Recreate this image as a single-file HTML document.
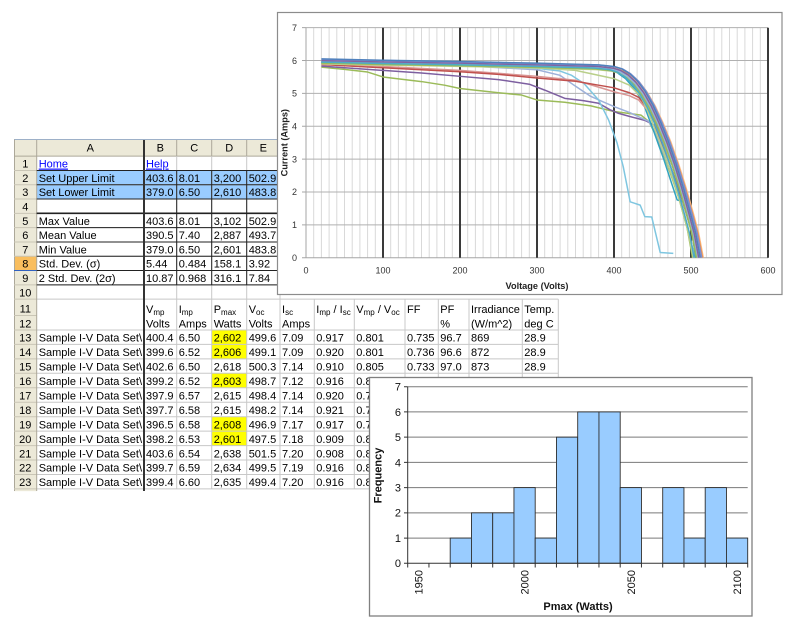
<!DOCTYPE html>
<html><head><meta charset="utf-8"><style>
html,body{margin:0;padding:0;background:#fff;}
svg{display:block;}
text{font-family:"Liberation Sans",Arial,sans-serif;}
.c{font-size:11px;fill:#000;}
.rn{font-size:11px;fill:#000;text-anchor:middle;}
.s{font-size:8px;}
.t{font-size:9px;fill:#333;}
.h{font-size:11px;fill:#111;}
</style></head><body>
<svg width="800" height="631" viewBox="0 0 800 631" xmlns="http://www.w3.org/2000/svg">
<rect width="800" height="631" fill="#fff"/>

<!-- ===== SPREADSHEET ===== -->
<!-- header row -->
<rect x="14" y="140" width="266" height="16.15" fill="#ECE9D8"/>
<rect x="14" y="156.15" width="22.7" height="335" fill="#ECE9D8"/>
<rect x="14" y="256.25" width="22.7" height="14.3" fill="#F9BE5E"/>
<line x1="14" y1="139.5" x2="280" y2="139.5" stroke="#9DB0C8" stroke-width="1"/>
<line x1="14.5" y1="139.5" x2="14.5" y2="491" stroke="#ACA899" stroke-width="1"/>
<line x1="14" y1="156.15" x2="280" y2="156.15" stroke="#ACA899" stroke-width="1"/>
<!-- blue fills rows 2-3 -->
<rect x="36.7" y="170.45" width="243.3" height="28.6" fill="#99CCFF"/>
<!-- yellow highlights -->
<g fill="#FFFF00">
<rect x="211.7" y="329.98" width="35" height="14.42"/>
<rect x="211.7" y="344.4" width="35" height="14.5"/>
<rect x="211.7" y="373.3" width="35" height="14.5"/>
<rect x="211.7" y="416.7" width="35" height="14.4"/>
<rect x="211.7" y="431.1" width="35" height="14.5"/>
</g>

<!-- light gridlines -->
<g stroke="#C8C8C8" stroke-width="1" fill="none">
<path d="M36.7,170.45H280M36.7,184.75H280M36.7,199.05H280M36.7,213.35H280M36.7,227.65H280M36.7,241.95H280M36.7,256.25H280M36.7,270.55H280M36.7,284.85H280"/>
<path d="M36.7,299.15H558.3M36.7,329.98H558.3M36.7,344.4H558.3M36.7,358.9H558.3M36.7,373.3H558.3M36.7,387.8H558.3M36.7,402.2H558.3M36.7,416.7H558.3M36.7,431.1H558.3M36.7,445.6H558.3M36.7,460H558.3M36.7,474.5H558.3M36.7,488.9H558.3"/>
<path d="M176.7,156.15V488.9M211.7,156.15V488.9M246.7,156.15V488.9M280,156.15V488.9M314.3,299.15V488.9M354.3,299.15V488.9M405,299.15V488.9M438.3,299.15V488.9M469,299.15V488.9M522.3,299.15V488.9M558.3,299.15V488.9"/>
</g>
<!-- row header separators -->
<g stroke="#C9C5B5" stroke-width="1">
<path d="M14,170.45H36.7M14,184.75H36.7M14,199.05H36.7M14,213.35H36.7M14,227.65H36.7M14,241.95H36.7M14,256.25H36.7M14,270.55H36.7M14,284.85H36.7M14,299.15H36.7M14,315.5H36.7M14,329.98H36.7M14,344.4H36.7M14,358.9H36.7M14,373.3H36.7M14,387.8H36.7M14,402.2H36.7M14,416.7H36.7M14,431.1H36.7M14,445.6H36.7M14,460H36.7M14,474.5H36.7M14,488.9H36.7"/>
</g>
<g stroke="#ACA899" stroke-width="1">
<path d="M36.7,140V491M144,140V156M176.7,140V156M211.7,140V156M246.7,140V156"/>
</g>
<line x1="14" y1="270.55" x2="36.7" y2="270.55" stroke="#3060C0" stroke-width="1"/>
<!-- dark cell borders rows 2-9 -->
<g stroke="#222" stroke-width="1" fill="none">
<path d="M36.7,170.45H280M36.7,184.75H280M36.7,199.05H280M36.7,213.35H280M36.7,227.65H280M36.7,241.95H280M36.7,256.25H280M36.7,270.55H280M36.7,284.85H280"/>
<path d="M176.7,170.45V284.85M211.7,170.45V284.85M246.7,170.45V284.85"/>
</g>
<line x1="36.7" y1="213.35" x2="280" y2="213.35" stroke="#222" stroke-width="1.6"/>
<line x1="144" y1="140" x2="144" y2="491" stroke="#333" stroke-width="2"/>

<!-- column letters -->
<g class="rn">
<text x="90.3" y="151.5">A</text><text x="160.3" y="151.5">B</text><text x="194.2" y="151.5">C</text><text x="229.2" y="151.5">D</text><text x="263.3" y="151.5">E</text>
</g>
<!-- row numbers -->
<g class="rn">
<text x="25.3" y="167.6">1</text><text x="25.3" y="181.9">2</text><text x="25.3" y="196.2">3</text><text x="25.3" y="210.5">4</text><text x="25.3" y="224.8">5</text><text x="25.3" y="239.1">6</text><text x="25.3" y="253.4">7</text><text x="25.3" y="267.7">8</text><text x="25.3" y="282">9</text><text x="25.3" y="296.3">10</text><text x="25.3" y="312.6">11</text><text x="25.3" y="327.3">12</text><text x="25.3" y="341.7">13</text><text x="25.3" y="356.1">14</text><text x="25.3" y="370.6">15</text><text x="25.3" y="385">16</text><text x="25.3" y="399.5">17</text><text x="25.3" y="413.9">18</text><text x="25.3" y="428.4">19</text><text x="25.3" y="442.8">20</text><text x="25.3" y="457.3">21</text><text x="25.3" y="471.7">22</text><text x="25.3" y="486.2">23</text>
</g>

<!-- rows 1-9 -->
<g class="c">
<text x="38.7" y="167.6" fill="#0000FF" text-decoration="underline">Home</text>
<text x="146" y="167.6" fill="#0000FF" text-decoration="underline">Help</text>
<text x="38.7" y="181.9">Set Upper Limit</text><text x="146" y="181.9">403.6</text><text x="178.7" y="181.9">8.01</text><text x="213.7" y="181.9">3,200</text><text x="248.7" y="181.9">502.9</text>
<text x="38.7" y="196.2">Set Lower Limit</text><text x="146" y="196.2">379.0</text><text x="178.7" y="196.2">6.50</text><text x="213.7" y="196.2">2,610</text><text x="248.7" y="196.2">483.8</text>
<text x="38.7" y="224.8">Max Value</text><text x="146" y="224.8">403.6</text><text x="178.7" y="224.8">8.01</text><text x="213.7" y="224.8">3,102</text><text x="248.7" y="224.8">502.9</text>
<text x="38.7" y="239.1">Mean Value</text><text x="146" y="239.1">390.5</text><text x="178.7" y="239.1">7.40</text><text x="213.7" y="239.1">2,887</text><text x="248.7" y="239.1">493.7</text>
<text x="38.7" y="253.4">Min Value</text><text x="146" y="253.4">379.0</text><text x="178.7" y="253.4">6.50</text><text x="213.7" y="253.4">2,601</text><text x="248.7" y="253.4">483.8</text>
<text x="38.7" y="267.7">Std. Dev. (σ)</text><text x="146" y="267.7">5.44</text><text x="178.7" y="267.7">0.484</text><text x="213.7" y="267.7">158.1</text><text x="248.7" y="267.7">3.92</text>
<text x="38.7" y="282">2 Std. Dev. (2σ)</text><text x="146" y="282">10.87</text><text x="178.7" y="282">0.968</text><text x="213.7" y="282">316.1</text><text x="248.7" y="282">7.84</text>
</g>

<!-- rows 11-12 headers -->
<g class="c">
<text x="146" y="313">V<tspan class="s" dy="2">mp</tspan></text>
<text x="178.7" y="313">I<tspan class="s" dy="2">mp</tspan></text>
<text x="213.7" y="313">P<tspan class="s" dy="2">max</tspan></text>
<text x="248.7" y="313">V<tspan class="s" dy="2">oc</tspan></text>
<text x="282" y="313">I<tspan class="s" dy="2">sc</tspan></text>
<text x="316.3" y="313">I<tspan class="s" dy="2">mp</tspan><tspan dy="-2"> / I</tspan><tspan class="s" dy="2">sc</tspan></text>
<text x="356.3" y="313">V<tspan class="s" dy="2">mp</tspan><tspan dy="-2"> / V</tspan><tspan class="s" dy="2">oc</tspan></text>
<text x="407" y="313">FF</text><text x="440.3" y="313">PF</text><text x="471" y="313">Irradiance</text><text x="524.3" y="313">Temp.</text>
<text x="146" y="327.3">Volts</text><text x="178.7" y="327.3">Amps</text><text x="213.7" y="327.3">Watts</text><text x="248.7" y="327.3">Volts</text><text x="282" y="327.3">Amps</text><text x="440.3" y="327.3">%</text><text x="471" y="327.3">(W/m^2)</text><text x="524.3" y="327.3">deg C</text>
</g>

<!-- data rows -->
<g class="c">
<text x="38.7" y="341.7">Sample I-V Data Set\</text><text x="146" y="341.7">400.4</text><text x="178.7" y="341.7">6.50</text><text x="213.7" y="341.7">2,602</text><text x="248.7" y="341.7">499.6</text><text x="282" y="341.7">7.09</text><text x="316.3" y="341.7">0.917</text><text x="356.3" y="341.7">0.801</text><text x="407" y="341.7">0.735</text><text x="440.3" y="341.7">96.7</text><text x="471" y="341.7">869</text><text x="524.3" y="341.7">28.9</text>
<text x="38.7" y="356.1">Sample I-V Data Set\</text><text x="146" y="356.1">399.6</text><text x="178.7" y="356.1">6.52</text><text x="213.7" y="356.1">2,606</text><text x="248.7" y="356.1">499.1</text><text x="282" y="356.1">7.09</text><text x="316.3" y="356.1">0.920</text><text x="356.3" y="356.1">0.801</text><text x="407" y="356.1">0.736</text><text x="440.3" y="356.1">96.6</text><text x="471" y="356.1">872</text><text x="524.3" y="356.1">28.9</text>
<text x="38.7" y="370.6">Sample I-V Data Set\</text><text x="146" y="370.6">402.6</text><text x="178.7" y="370.6">6.50</text><text x="213.7" y="370.6">2,618</text><text x="248.7" y="370.6">500.3</text><text x="282" y="370.6">7.14</text><text x="316.3" y="370.6">0.910</text><text x="356.3" y="370.6">0.805</text><text x="407" y="370.6">0.733</text><text x="440.3" y="370.6">97.0</text><text x="471" y="370.6">873</text><text x="524.3" y="370.6">28.9</text>
<text x="38.7" y="385">Sample I-V Data Set\</text><text x="146" y="385">399.2</text><text x="178.7" y="385">6.52</text><text x="213.7" y="385">2,603</text><text x="248.7" y="385">498.7</text><text x="282" y="385">7.12</text><text x="316.3" y="385">0.916</text><text x="356.3" y="385">0.800</text>
<text x="38.7" y="399.5">Sample I-V Data Set\</text><text x="146" y="399.5">397.9</text><text x="178.7" y="399.5">6.57</text><text x="213.7" y="399.5">2,615</text><text x="248.7" y="399.5">498.4</text><text x="282" y="399.5">7.14</text><text x="316.3" y="399.5">0.920</text><text x="356.3" y="399.5">0.798</text>
<text x="38.7" y="413.9">Sample I-V Data Set\</text><text x="146" y="413.9">397.7</text><text x="178.7" y="413.9">6.58</text><text x="213.7" y="413.9">2,615</text><text x="248.7" y="413.9">498.2</text><text x="282" y="413.9">7.14</text><text x="316.3" y="413.9">0.921</text><text x="356.3" y="413.9">0.798</text>
<text x="38.7" y="428.4">Sample I-V Data Set\</text><text x="146" y="428.4">396.5</text><text x="178.7" y="428.4">6.58</text><text x="213.7" y="428.4">2,608</text><text x="248.7" y="428.4">496.9</text><text x="282" y="428.4">7.17</text><text x="316.3" y="428.4">0.917</text><text x="356.3" y="428.4">0.798</text>
<text x="38.7" y="442.8">Sample I-V Data Set\</text><text x="146" y="442.8">398.2</text><text x="178.7" y="442.8">6.53</text><text x="213.7" y="442.8">2,601</text><text x="248.7" y="442.8">497.5</text><text x="282" y="442.8">7.18</text><text x="316.3" y="442.8">0.909</text><text x="356.3" y="442.8">0.800</text>
<text x="38.7" y="457.3">Sample I-V Data Set\</text><text x="146" y="457.3">403.6</text><text x="178.7" y="457.3">6.54</text><text x="213.7" y="457.3">2,638</text><text x="248.7" y="457.3">501.5</text><text x="282" y="457.3">7.20</text><text x="316.3" y="457.3">0.908</text><text x="356.3" y="457.3">0.805</text>
<text x="38.7" y="471.7">Sample I-V Data Set\</text><text x="146" y="471.7">399.7</text><text x="178.7" y="471.7">6.59</text><text x="213.7" y="471.7">2,634</text><text x="248.7" y="471.7">499.5</text><text x="282" y="471.7">7.19</text><text x="316.3" y="471.7">0.916</text><text x="356.3" y="471.7">0.800</text>
<text x="38.7" y="486.2">Sample I-V Data Set\</text><text x="146" y="486.2">399.4</text><text x="178.7" y="486.2">6.60</text><text x="213.7" y="486.2">2,635</text><text x="248.7" y="486.2">499.4</text><text x="282" y="486.2">7.20</text><text x="316.3" y="486.2">0.916</text><text x="356.3" y="486.2">0.800</text>
</g>

<!-- ===== I-V CHART ===== -->
<rect x="277.5" y="12.5" width="504.5" height="282" fill="#fff" stroke="#8C8C8C" stroke-width="1.2"/>
<!-- minor verticals -->
<path stroke="#D9D9D9" stroke-width="1" fill="none" d="M313.7,27.7V257.7M321.4,27.7V257.7M329.1,27.7V257.7M336.8,27.7V257.7M344.5,27.7V257.7M352.2,27.7V257.7M359.9,27.7V257.7M367.6,27.7V257.7M375.3,27.7V257.7M390.7,27.7V257.7M398.4,27.7V257.7M406.1,27.7V257.7M413.8,27.7V257.7M421.5,27.7V257.7M429.2,27.7V257.7M436.9,27.7V257.7M444.6,27.7V257.7M452.3,27.7V257.7M467.7,27.7V257.7M475.4,27.7V257.7M483.1,27.7V257.7M490.8,27.7V257.7M498.5,27.7V257.7M506.2,27.7V257.7M513.9,27.7V257.7M521.6,27.7V257.7M529.3,27.7V257.7M544.7,27.7V257.7M552.4,27.7V257.7M560.1,27.7V257.7M567.8,27.7V257.7M575.5,27.7V257.7M583.2,27.7V257.7M590.9,27.7V257.7M598.6,27.7V257.7M606.3,27.7V257.7M621.7,27.7V257.7M629.4,27.7V257.7M637.1,27.7V257.7M644.8,27.7V257.7M652.5,27.7V257.7M660.2,27.7V257.7M667.9,27.7V257.7M675.6,27.7V257.7M683.3,27.7V257.7M698.7,27.7V257.7M706.4,27.7V257.7M714.1,27.7V257.7M721.8,27.7V257.7M729.5,27.7V257.7M737.2,27.7V257.7M744.9,27.7V257.7M752.6,27.7V257.7M760.3,27.7V257.7"/>
<!-- horizontal gridlines -->
<path stroke="#B0B0B0" stroke-width="1" fill="none" d="M306,224.84H768M306,191.98H768M306,159.12H768M306,126.26H768M306,93.4H768M306,60.54H768M306,27.68H768"/>
<!-- axes -->
<path stroke="#A6A6A6" stroke-width="1" fill="none" d="M306,27.7V257.7M302,257.7H768M302,224.84H306M302,191.98H306M302,159.12H306M302,126.26H306M302,93.4H306M302,60.54H306M302,27.68H306"/>
<!-- major verticals -->
<path stroke="#3A3A3A" stroke-width="2" fill="none" d="M383,27.7V257.7M460,27.7V257.7M537,27.7V257.7M614,27.7V257.7M691,27.7V257.7M768,27.7V257.7"/>

<!-- curves -->
<g transform="translate(306,257.7) scale(0.77,-32.86)" fill="none" stroke-width="1.5" stroke-linejoin="round">
<path vector-effect="non-scaling-stroke" stroke="#9BBB59" d="M20,5.8 L50,5.73 L80,5.65 L100,5.5 L150,5.36 L180,5.25 L200,5.15 L250,5.02 L280,4.95 L300,4.8 L336,4.73 L370,4.62 L400,4.45 L435,4.34 L445,4.15 L455,3.7 L465,3.1 L475,2.45 L485,1.75 L495,0.9 L502,0"/>
<path vector-effect="non-scaling-stroke" stroke="#7D5FA0" d="M20,5.83 L100,5.7 L150,5.62 L200,5.52 L250,5.42 L290,5.28 L310,5.1 L336,4.85 L360,4.78 L380,4.7 L395,4.5 L405,4.4 L420,4.3 L440,4.18 L452,4.04 L460,3.6 L470,3.0 L480,2.35 L490,1.65 L500,0.85 L507,0"/>
<path vector-effect="non-scaling-stroke" stroke="#9DB1DA" d="M20,5.95 L200,5.85 L300,5.72 L330,5.55 L348,5.25 L369,4.92 L385,4.75 L400,4.6 L420,4.42 L445,4.15 L455,3.75 L465,3.15 L475,2.5 L485,1.8 L495,1.0 L505,0"/>
<path vector-effect="non-scaling-stroke" stroke="#7FC6E0" d="M20,5.98 L100,5.93 L200,5.86 L300,5.76 L330,5.68 L345,5.55 L361,5.3 L380,4.8 L393,4.19 L404,3.49 L412,2.77 L421,1.7 L434,1.6 L440,1.25 L449,1.24 L460,0.16 L477,0.13"/>
<path vector-effect="non-scaling-stroke" stroke="#31A3BF" d="M20,5.93 L300,5.84 L400,5.7 L415,5.45 L428,5.1 L438,4.7 L450,3.95 L465,2.97 L475,2.25 L482,1.76 L490,1.7 L497,1.5 L503,0.5 L506,0"/>
<path vector-effect="non-scaling-stroke" stroke="#D99694" d="M20,5.92 L100,5.82 L200,5.7 L300,5.52 L350,5.4 L400,5.05 L420,4.93 L432,4.8 L445,4.45 L455,4.0 L465,3.45 L475,2.85 L485,2.15 L495,1.35 L505,0.4 L508,0"/>
<path vector-effect="non-scaling-stroke" stroke="#C0504D" d="M20,5.88 L100,5.78 L200,5.66 L250,5.58 L300,5.47 L350,5.37 L380,5.25 L400,5.17 L420,5.02 L432,4.88 L442,4.6 L452,4.2 L462,3.7 L472,3.15 L482,2.5 L492,1.75 L502,0.9 L509,0"/>
<path vector-effect="non-scaling-stroke" stroke="#B9CF8A" d="M20,5.95 L200,5.85 L300,5.78 L350,5.7 L400,5.45 L420,5.25 L435,4.9 L445,4.4 L455,3.8 L465,3.2 L475,2.5 L485,1.75 L495,0.9 L503,0"/>
<g>
<path vector-effect="non-scaling-stroke" stroke="#FAC090" transform="scale(1.0078,0.995)" d="M20,6.02 L100,5.98 L200,5.94 L300,5.89 L380,5.84 L400,5.79 L410,5.72 L420,5.58 L430,5.36 L440,5.05 L450,4.64 L460,4.13 L470,3.55 L480,2.88 L490,2.12 L500,1.28 L506,0.75 L512,0"/>
<path vector-effect="non-scaling-stroke" stroke="#F79646" transform="scale(1.0059,0.9917)" d="M20,6.02 L100,5.98 L200,5.94 L300,5.89 L380,5.84 L400,5.79 L410,5.72 L420,5.58 L430,5.36 L440,5.05 L450,4.64 L460,4.13 L470,3.55 L480,2.88 L490,2.12 L500,1.28 L506,0.75 L512,0"/>
<path vector-effect="non-scaling-stroke" stroke="#F2A7A5" transform="scale(1.002,0.99)" d="M20,6.02 L100,5.98 L200,5.94 L300,5.89 L380,5.84 L400,5.79 L410,5.72 L420,5.58 L430,5.36 L440,5.05 L450,4.64 L460,4.13 L470,3.55 L480,2.88 L490,2.12 L500,1.28 L506,0.75 L512,0"/>
<path vector-effect="non-scaling-stroke" stroke="#B3A2C7" transform="scale(0.998,0.9867)" d="M20,6.02 L100,5.98 L200,5.94 L300,5.89 L380,5.84 L400,5.79 L410,5.72 L420,5.58 L430,5.36 L440,5.05 L450,4.64 L460,4.13 L470,3.55 L480,2.88 L490,2.12 L500,1.28 L506,0.75 L512,0"/>
<path vector-effect="non-scaling-stroke" stroke="#93CDDD" transform="scale(0.9961,0.995)" d="M20,6.02 L100,5.98 L200,5.94 L300,5.89 L380,5.84 L400,5.79 L410,5.72 L420,5.58 L430,5.36 L440,5.05 L450,4.64 L460,4.13 L470,3.55 L480,2.88 L490,2.12 L500,1.28 L506,0.75 L512,0"/>
<path vector-effect="non-scaling-stroke" stroke="#C3D69B" transform="scale(0.9941,0.98)" d="M20,6.02 L100,5.98 L200,5.94 L300,5.89 L380,5.84 L400,5.79 L410,5.72 L420,5.58 L430,5.36 L440,5.05 L450,4.64 L460,4.13 L470,3.55 L480,2.88 L490,2.12 L500,1.28 L506,0.75 L512,0"/>
<path vector-effect="non-scaling-stroke" stroke="#95B3D7" transform="scale(0.9922,0.9917)" d="M20,6.02 L100,5.98 L200,5.94 L300,5.89 L380,5.84 L400,5.79 L410,5.72 L420,5.58 L430,5.36 L440,5.05 L450,4.64 L460,4.13 L470,3.55 L480,2.88 L490,2.12 L500,1.28 L506,0.75 L512,0"/>
<path vector-effect="non-scaling-stroke" stroke="#9BBB59" transform="scale(0.9902,0.9834)" d="M20,6.02 L100,5.98 L200,5.94 L300,5.89 L380,5.84 L400,5.79 L410,5.72 L420,5.58 L430,5.36 L440,5.05 L450,4.64 L460,4.13 L470,3.55 L480,2.88 L490,2.12 L500,1.28 L506,0.75 L512,0"/>
<path vector-effect="non-scaling-stroke" stroke="#4BACC6" transform="scale(0.9844,0.9884)" d="M20,6.02 L100,5.98 L200,5.94 L300,5.89 L380,5.84 L400,5.79 L410,5.72 L420,5.58 L430,5.36 L440,5.05 L450,4.64 L460,4.13 L470,3.55 L480,2.88 L490,2.12 L500,1.28 L506,0.75 L512,0"/>
<path vector-effect="non-scaling-stroke" stroke="#8064A2" transform="scale(0.9961,0.9967)" d="M20,6.02 L100,5.98 L200,5.94 L300,5.89 L380,5.84 L400,5.79 L410,5.72 L420,5.58 L430,5.36 L440,5.05 L450,4.64 L460,4.13 L470,3.55 L480,2.88 L490,2.12 L500,1.28 L506,0.75 L512,0"/>
<path vector-effect="non-scaling-stroke" stroke="#7F8FD0" transform="scale(1.0039,1.0033)" d="M20,6.02 L100,5.98 L200,5.94 L300,5.89 L380,5.84 L400,5.79 L410,5.72 L420,5.58 L430,5.36 L440,5.05 L450,4.64 L460,4.13 L470,3.55 L480,2.88 L490,2.12 L500,1.28 L506,0.75 L512,0"/>
<path vector-effect="non-scaling-stroke" stroke="#4F81BD" transform="scale(1,1.005)" d="M20,6.02 L100,5.98 L200,5.94 L300,5.89 L380,5.84 L400,5.79 L410,5.72 L420,5.58 L430,5.36 L440,5.05 L450,4.64 L460,4.13 L470,3.55 L480,2.88 L490,2.12 L500,1.28 L506,0.75 L512,0"/>
</g>
</g>

<!-- axis labels chart 1 -->
<g class="t" text-anchor="end">
<text x="297" y="261">0</text><text x="297" y="228.1">1</text><text x="297" y="195.2">2</text><text x="297" y="162.4">3</text><text x="297" y="129.5">4</text><text x="297" y="96.6">5</text><text x="297" y="63.8">6</text><text x="297" y="30.9">7</text>
</g>
<g class="t" text-anchor="middle">
<text x="306" y="273.5">0</text><text x="383" y="273.5">100</text><text x="460" y="273.5">200</text><text x="537" y="273.5">300</text><text x="614" y="273.5">400</text><text x="691" y="273.5">500</text><text x="768" y="273.5">600</text>
</g>
<text x="537" y="289" text-anchor="middle" font-size="9.2" font-weight="bold" fill="#222">Voltage (Volts)</text>
<text transform="translate(287.5,142.7) rotate(-90)" text-anchor="middle" font-size="9.2" font-weight="bold" fill="#222">Current (Amps)</text>

<!-- ===== HISTOGRAM ===== -->
<rect x="369.5" y="377.5" width="382.5" height="238.5" fill="#fff" stroke="#808080" stroke-width="1.3"/>
<path stroke="#7A7A7A" stroke-width="1" fill="none" d="M407.7,538.07H747.7M407.7,512.84H747.7M407.7,487.61H747.7M407.7,462.38H747.7M407.7,437.15H747.7M407.7,411.92H747.7M407.7,386.69H747.7"/>
<g fill="#99CCFF" stroke="#2E2E2E" stroke-width="0.9">
<rect x="450.2" y="538.07" width="21.25" height="25.23"/>
<rect x="471.45" y="512.84" width="21.25" height="50.46"/>
<rect x="492.7" y="512.84" width="21.25" height="50.46"/>
<rect x="513.95" y="487.61" width="21.25" height="75.69"/>
<rect x="535.2" y="538.07" width="21.25" height="25.23"/>
<rect x="556.45" y="437.15" width="21.25" height="126.15"/>
<rect x="577.7" y="411.92" width="21.25" height="151.38"/>
<rect x="598.95" y="411.92" width="21.25" height="151.38"/>
<rect x="620.2" y="487.61" width="21.25" height="75.69"/>
<rect x="662.7" y="487.61" width="21.25" height="75.69"/>
<rect x="683.95" y="538.07" width="21.25" height="25.23"/>
<rect x="705.2" y="487.61" width="21.25" height="75.69"/>
<rect x="726.45" y="538.07" width="21.25" height="25.23"/>
</g>
<path stroke="#333" stroke-width="1" fill="none" d="M407.7,386.69V563.3M404,563.3H747.7M404,538.07H407.7M404,512.84H407.7M404,487.61H407.7M404,462.38H407.7M404,437.15H407.7M404,411.92H407.7M404,386.69H407.7M407.7,563.3V567.5M428.95,563.3V567.5M450.2,563.3V567.5M471.45,563.3V567.5M492.7,563.3V567.5M513.95,563.3V567.5M535.2,563.3V567.5M556.45,563.3V567.5M577.7,563.3V567.5M598.95,563.3V567.5M620.2,563.3V567.5M641.45,563.3V567.5M662.7,563.3V567.5M683.95,563.3V567.5M705.2,563.3V567.5M726.45,563.3V567.5M747.7,563.3V567.5"/>
<g class="h" text-anchor="end">
<text x="401" y="567.2">0</text><text x="401" y="542">1</text><text x="401" y="516.7">2</text><text x="401" y="491.5">3</text><text x="401" y="466.3">4</text><text x="401" y="441">5</text><text x="401" y="415.8">6</text><text x="401" y="390.6">7</text>
</g>
<g class="h" text-anchor="end">
<text transform="translate(422.3,570) rotate(-90)">1950</text>
<text transform="translate(528.6,570) rotate(-90)">2000</text>
<text transform="translate(634.9,570) rotate(-90)">2050</text>
<text transform="translate(741.2,570) rotate(-90)">2100</text>
</g>
<text transform="translate(381.5,475.5) rotate(-90)" text-anchor="middle" font-size="11" font-weight="bold" fill="#111">Frequency</text>
<text x="578" y="610" text-anchor="middle" font-size="11" font-weight="bold" fill="#111">Pmax (Watts)</text>
</svg>
</body></html>
